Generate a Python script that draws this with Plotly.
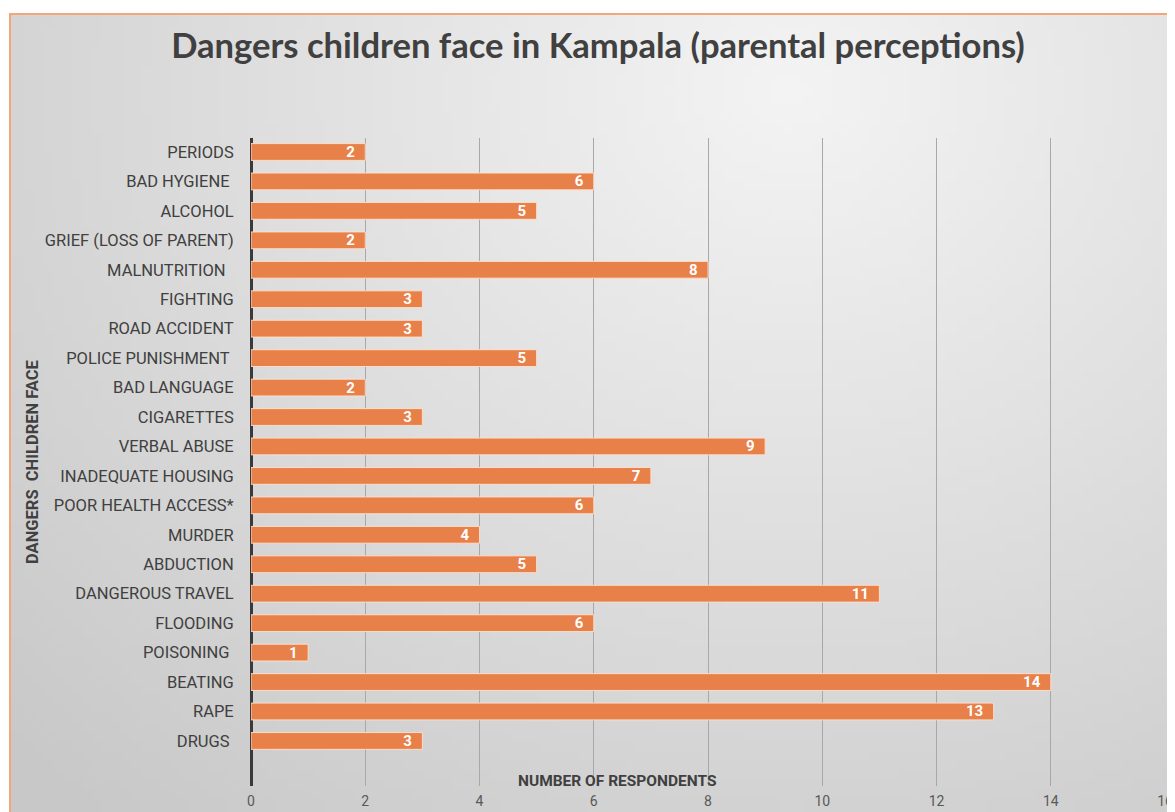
import base64
import struct
import zlib
import math
import plotly.graph_objects as go

# ---------------- data ----------------
categories = [
    "PERIODS", "BAD HYGIENE\u00a0", "ALCOHOL", "GRIEF (LOSS OF PARENT)", "MALNUTRITION\u00a0\u00a0",
    "FIGHTING", "ROAD ACCIDENT", "POLICE PUNISHMENT\u00a0", "BAD LANGUAGE", "CIGARETTES",
    "VERBAL ABUSE", "INADEQUATE HOUSING", "POOR HEALTH ACCESS*", "MURDER", "ABDUCTION",
    "DANGEROUS TRAVEL", "FLOODING", "POISONING\u00a0", "BEATING", "RAPE", "DRUGS\u00a0",
]
respondents = [2, 6, 5, 2, 8, 3, 3, 5, 2, 3, 9, 7, 6, 4, 5, 11, 6, 1, 14, 13, 3]
x_ticks = [0, 2, 4, 6, 8, 10, 12, 14, 16]

title_text = "Dangers children face in Kampala (parental perceptions)"
x_title = "NUMBER OF RESPONDENTS"
y_title = "DANGERS\u00a0 CHILDREN FACE"

# ---------------- geometry (page pixels; body has an 8px margin) ----------------
PAGE_W, PAGE_H = 1175, 812
OFF = 8
W, H = PAGE_W - OFF, PAGE_H - OFF
PLOT_L, PLOT_R, PLOT_T, PLOT_B = 251, 1165, 138, 786  # page coords
ML = PLOT_L - OFF
MT = PLOT_T - OFF
MR = W - (PLOT_R - OFF)
MB = H - (PLOT_B - OFF)
PW, PH = W - ML - MR, H - MT - MB


def px(x):  # page x -> paper
    return (x - PLOT_L) / PW


def py(y):  # page y -> paper
    return (PLOT_B - y) / PH


# ---------------- background gradient image (decoration) ----------------
def make_png(w, h, cx, cy):
    rows = b""
    for j in range(h):
        row = bytearray([0])
        for i in range(w):
            X = 10 + (i + 0.5) * (PAGE_W - 10) / w
            Y = 14 + (j + 0.5) * (PAGE_H - 14) / h
            d = math.hypot((X - cx), (Y - cy) * 1.15)
            v = int(max(200, min(243, 244 - 0.04 * d)))
            row += bytes([v, v, v])
        rows += bytes(row)

    def chunk(t, data):
        c = struct.pack(">I", len(data)) + t + data
        return c + struct.pack(">I", zlib.crc32(t + data) & 0xFFFFFFFF)

    png = b"\x89PNG\r\n\x1a\n"
    png += chunk(b"IHDR", struct.pack(">IIBBBBB", w, h, 8, 2, 0, 0, 0))
    png += chunk(b"IDAT", zlib.compress(rows, 9))
    png += chunk(b"IEND", b"")
    return "data:image/png;base64," + base64.b64encode(png).decode()


bg_src = make_png(120, 84, 790, 90)

# ---------------- figure ----------------
fig = go.Figure()
fig.add_trace(go.Bar(
    x=respondents,
    y=categories,
    orientation="h",
    width=0.57,
    marker=dict(color="#E8804A", line=dict(color="rgba(255,225,205,0.9)", width=1)),
    texttemplate="<b>%{x}</b>\u00a0\u00a0",
    textposition="inside",
    insidetextanchor="end",
    textangle=0,
    constraintext="none",
    textfont=dict(family="Roboto", size=15, color="white"),
    hoverinfo="skip",
))

fig.update_layout(
    width=W,
    height=H,
    margin=dict(l=ML, r=MR, t=MT, b=MB, autoexpand=False),
    paper_bgcolor="white",
    plot_bgcolor="rgba(0,0,0,0)",
    showlegend=False,
    bargap=0.43,
    title=dict(
        text="<b>" + title_text + "</b>",
        x=(598 - OFF) / W, xanchor="center",
        y=1 - (46 - OFF) / H, yanchor="middle",
        font=dict(family="Lato", size=34.6, color="#404040"),
    ),
    xaxis=dict(
        range=[0, 16],
        tickvals=x_ticks,
        showgrid=True,
        gridcolor="#a8a8a8",
        gridwidth=1,
        zeroline=True,
        zerolinecolor="#3a3a3a",
        zerolinewidth=3,
        showline=False,
        ticks="outside",
        ticklen=2,
        tickcolor="rgba(0,0,0,0)",
        tickfont=dict(family="Roboto", size=14, color="#595959"),
        automargin=False,
        fixedrange=True,
    ),
    yaxis=dict(
        type="category",
        categoryorder="array",
        categoryarray=categories,
        range=[21.53, -0.475],
        showgrid=False,
        zeroline=False,
        showline=False,
        ticks="outside",
        ticklen=13,
        tickcolor="rgba(0,0,0,0)",
        tickfont=dict(family="Roboto", size=16.5, color="#404040"),
        automargin=False,
        fixedrange=True,
    ),
    images=[dict(
        source=bg_src,
        xref="paper", yref="paper",
        x=px(10), y=py(14),
        sizex=(PAGE_W - 10) / PW, sizey=(PAGE_H - 14) / PH,
        xanchor="left", yanchor="top",
        sizing="stretch",
        layer="below",
    )],
    shapes=[dict(
        type="rect", xref="paper", yref="paper",
        x0=px(10), y0=py(14), x1=px(PAGE_W + 20), y1=py(PAGE_H + 20),
        line=dict(color="#F4A57A", width=2),
        fillcolor="rgba(0,0,0,0)",
        layer="above",
    )],
    annotations=[
        dict(
            text="<b>" + x_title + "</b>",
            xref="paper", yref="paper",
            x=px(617), y=py(781),
            xanchor="center", yanchor="middle",
            showarrow=False,
            font=dict(family="Roboto", size=15.5, color="#404040"),
        ),
        dict(
            text="<b>" + y_title + "</b>",
            xref="paper", yref="paper",
            x=px(32), y=py(462),
            xanchor="center", yanchor="middle",
            textangle=-90,
            showarrow=False,
            font=dict(family="Roboto", size=16.5, color="#404040"),
        ),
    ],
)

fig.write_html("out.html", config={"displayModeBar": False})
